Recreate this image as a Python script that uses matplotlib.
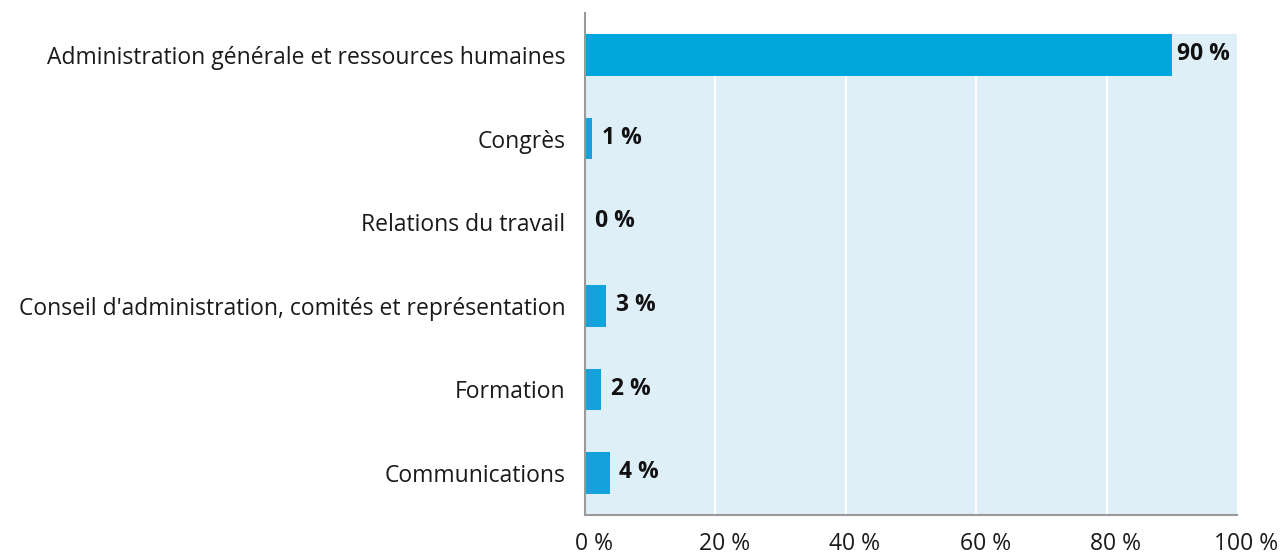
import matplotlib
matplotlib.use("Agg")
import matplotlib.pyplot as plt
import matplotlib.transforms as mtransforms

categories = [
    "Administration générale et ressources humaines",
    "Congrès",
    "Relations du travail",
    "Conseil d'administration, comités et représentation",
    "Formation",
    "Communications",
]
values = [90.0, 1.1, 0.0, 3.2, 2.5, 3.8]
value_labels = ["90 %", "1 %", "0 %", "3 %", "2 %", "4 %"]
xticks = [0, 20, 40, 60, 80, 100]
xtick_labels = ["0 %", "20 %", "40 %", "60 %", "80 %", "100 %"]

plt.rcParams['font.family'] = ['Open Sans', 'DejaVu Sans']

W, H = 1283, 555
fig = plt.figure(figsize=(W / 100, H / 100), dpi=100)
ax = fig.add_axes([585 / W, 1 - 515 / H, (1237 - 585) / W, (515 - 13) / H])

n = len(categories)
ypos = list(range(n))
ax.set_xlim(0, 100)
ax.set_ylim(n - 0.5, -0.5)

# light panel
ax.add_patch(plt.Rectangle((0, -0.25), 100, n - 0.5 + 0.25, facecolor="#DFEFF8",
                           edgecolor="none", zorder=0))
for t in xticks[1:-1]:
    ax.plot([t, t], [-0.25, n - 0.5], color="white", lw=1.5, zorder=1)

colors = ["#00A7DC"] + ["#14A2DC"] * (n - 1)
ax.barh(ypos, values, height=0.5, color=colors, zorder=2)

for y, v, lab in zip(ypos, values, value_labels):
    ax.annotate(lab, (v, y), xytext=(3.5 if v > 50 else 7, 0.5), textcoords="offset points",
                ha="left", va="center", fontsize=16.5, fontweight="bold", color="#111111")

ax.set_yticks(ypos)
ax.set_yticklabels(categories, fontsize=16.5, color="#1a1a1a")
ax.set_xticks(xticks)
ax.set_xticklabels(xtick_labels, fontsize=16.5, color="#1a1a1a")
ax.tick_params(axis="both", length=0)
ax.tick_params(axis="y", pad=14)
ax.tick_params(axis="x", pad=12.5)
offset = mtransforms.ScaledTranslation(9 / 100, 0, fig.dpi_scale_trans)
for lbl in ax.get_xticklabels():
    lbl.set_transform(lbl.get_transform() + offset)

for s in ["top", "right"]:
    ax.spines[s].set_visible(False)
ax.spines["left"].set_color("#9a9a9a")
ax.spines["bottom"].set_color("#9a9a9a")
ax.spines["left"].set_linewidth(1.5)
ax.spines["bottom"].set_linewidth(1.5)
ax.set_facecolor("white")

fig.savefig("out.png", dpi=100)
